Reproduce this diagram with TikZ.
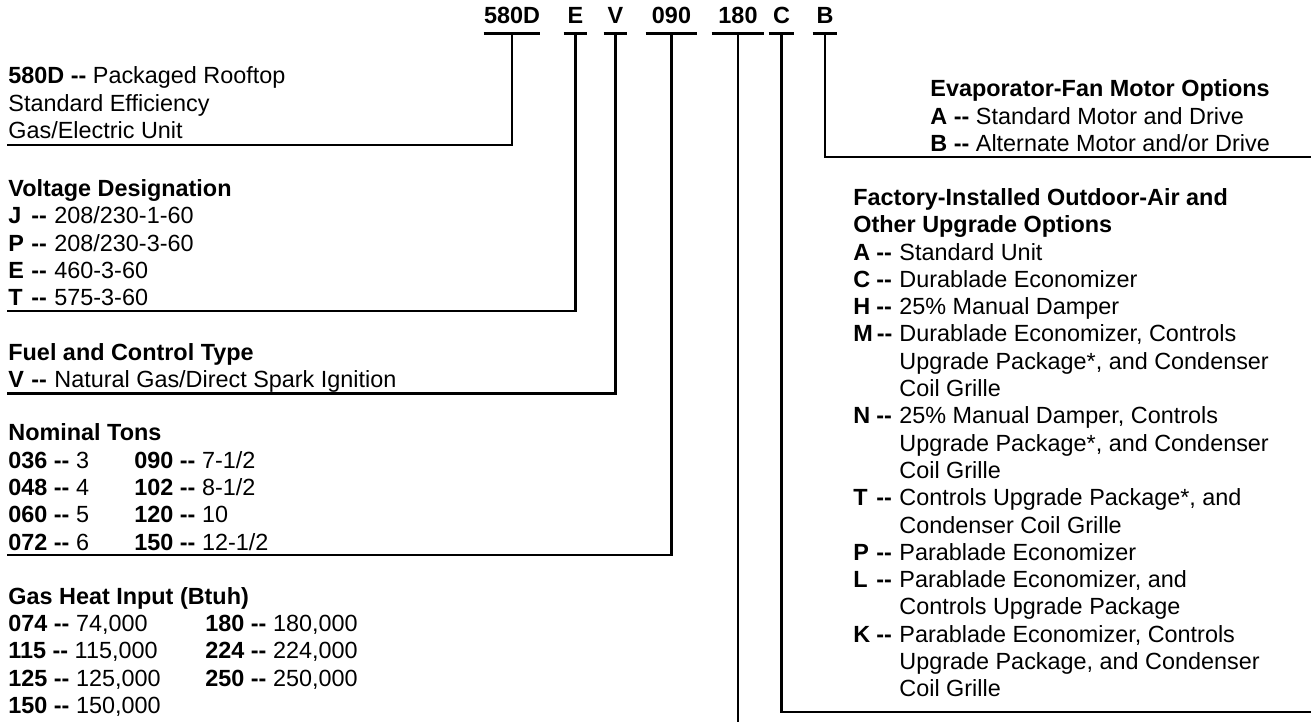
\documentclass[tikz,border=0pt]{standalone}
\usepackage{fontspec}
\setmainfont{Liberation Sans}
\newcommand{\keyb}[1]{\makebox[23pt][l]{\makebox[11.5pt][l]{\textbf{#1}}\textbf{-{}-}}}
\newcommand{\ind}{\hspace*{23pt}}
\newcommand{\tonrow}[4]{\makebox[63pt][l]{\textbf{#1 -{}-} #2}\textbf{#3 -{}-} #4}
\newcommand{\gasrow}[4]{\makebox[98.5pt][l]{\textbf{#1 -{}-} #2}\textbf{#3 -{}-} #4}
\newcommand{\topstrut}{\rule{0pt}{10pt}}
\begin{document}
\begin{tikzpicture}[x=0.5pt,y=-0.5pt,
  every node/.style={inner sep=0pt, font=\fontsize{11.7}{13.65}\selectfont},
  code/.style={font=\fontsize{11.7}{13.65}\selectfont\bfseries, anchor=base, text depth=0pt, inner ysep=4.8pt},
  block/.style={anchor=north west, align=left},
  wire/.style={line width=1.1pt, line join=miter, line cap=butt}
]
\useasboundingbox (0,0) rectangle (1311,724);

% header codes
\node[code, inner xsep=0pt]    (h1) at (512,23.4)   {580D};
\node[code, inner xsep=1.85pt] (h2) at (575.5,23.4) {E};
\node[code, inner xsep=1.85pt] (h3) at (615.5,23.4) {V};
\node[code, inner xsep=3pt]    (h4) at (671.5,23.4) {090};
\node[code, inner xsep=3.25pt] (h5) at (738,23.4)   {180};
\node[code, inner xsep=2pt]    (h6) at (781.5,23.4) {C};
\node[code, inner xsep=1.75pt] (h7) at (825,23.4)   {B};

\foreach \n in {h1,h2,h3,h4,h5,h6,h7}
  \draw[wire] (\n.south west) -- (\n.south east);

% end points of the leaders
\coordinate (e1) at (7,145);
\coordinate (e2) at (7,310.8);
\coordinate (e3) at (7,393.5);
\coordinate (e4) at (7,555.3);
\coordinate (e5) at (738,722);
\coordinate (e6) at (1311,712);
\coordinate (e7) at (1311,156.6);

% text blocks
\node[block] (b1) at (8,63.4) {\topstrut\textbf{580D -{}-} Packaged Rooftop\\
Standard Efficiency\\
Gas/Electric Unit};

\node[block] (b2) at (8,176) {\topstrut\textbf{Voltage Designation}\\
\keyb{J}208/230-1-60\\
\keyb{P}208/230-3-60\\
\keyb{E}460-3-60\\
\keyb{T}575-3-60};

\node[block] (b3) at (8,340) {\topstrut\textbf{Fuel and Control Type}\\
\keyb{V}Natural Gas/Direct Spark Ignition};

\node[block] (b4) at (8,420.5) {\topstrut\textbf{Nominal Tons}\\
\tonrow{036}{3}{090}{7-1/2}\\
\tonrow{048}{4}{102}{8-1/2}\\
\tonrow{060}{5}{120}{10}\\
\tonrow{072}{6}{150}{12-1/2}};

\node[block] (b5) at (8,583.7) {\topstrut\textbf{Gas Heat Input (Btuh)}\\
\gasrow{074}{74,000}{180}{180,000}\\
\gasrow{115}{115,000}{224}{224,000}\\
\gasrow{125}{125,000}{250}{250,000}\\
\textbf{150 -{}-} 150,000};

\node[block] (b7) at (930,76.4) {\topstrut\textbf{Evaporator-Fan Motor Options}\\
\textbf{A -{}-} Standard Motor and Drive\\
\textbf{B -{}-} Alternate Motor and/or Drive};

\node[block] (b6) at (853,185) {\topstrut\textbf{Factory-Installed Outdoor-Air and}\\
\textbf{Other Upgrade Options}\\
\keyb{A}Standard Unit\\
\keyb{C}Durablade Economizer\\
\keyb{H}25\% Manual Damper\\
\makebox[23pt][l]{\textbf{M\,-{}-}}Durablade Economizer, Controls\\
\ind Upgrade Package*, and Condenser\\
\ind Coil Grille\\
\keyb{N}25\% Manual Damper, Controls\\
\ind Upgrade Package*, and Condenser\\
\ind Coil Grille\\
\keyb{T}Controls Upgrade Package*, and\\
\ind Condenser Coil Grille\\
\keyb{P}Parablade Economizer\\
\keyb{L}Parablade Economizer, and\\
\ind Controls Upgrade Package\\
\keyb{K}Parablade Economizer, Controls\\
\ind Upgrade Package, and Condenser\\
\ind Coil Grille};

% leaders
\draw[wire] (h1.south) |- (e1);
\draw[wire] (h2.south) |- (e2);
\draw[wire] (h3.south) |- (e3);
\draw[wire] (h4.south) |- (e4);
\draw[wire] (h5.south) -- (e5);
\draw[wire] (h6.south) |- (e6);
\draw[wire] (h7.south) |- (e7);
\end{tikzpicture}
\end{document}
